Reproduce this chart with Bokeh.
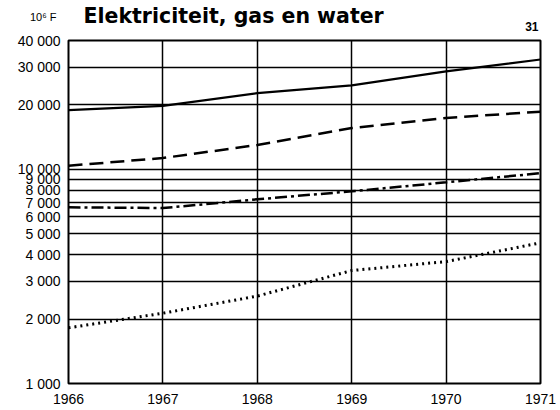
from bokeh.plotting import figure
from bokeh.layouts import column
from bokeh.models import Range1d, FixedTicker
from bokeh.core.properties import value
from bokeh.embed import file_html
from bokeh.resources import INLINE

years = [1966, 1967, 1968, 1969, 1970, 1971]
solid = [18900, 19800, 22700, 24700, 28700, 32600]
dashed = [10400, 11300, 13000, 15600, 17400, 18600]
dashdot = [6650, 6600, 7250, 7900, 8700, 9600]
dotted = [1820, 2130, 2560, 3370, 3710, 4540]

y_ticks = [1000, 2000, 3000, 4000, 5000, 6000, 7000, 8000, 9000, 10000, 20000, 30000, 40000]
y_labels = ["1 000", "2 000", "3 000", "4 000", "5 000", "6 000", "7 000", "8 000",
            "9 000", "10 000", "20 000", "30 000", "40 000"]
x_labels = ["1966", "1967", "1968", "1969", "1970", "1971"]

title_text = "Elektriciteit, gas en water"
unit_text = "10\u2076 F"
page_text = "31"

FONT = "Liberation Sans"
W = 556
LEFT, RIGHT = 68, 16
HEAD_H = 32

# header strip holding the title texts (page-pixel coordinates)
head = figure(width=W, height=HEAD_H, output_backend="svg", toolbar_location=None,
              x_range=Range1d(LEFT, W - RIGHT), y_range=Range1d(HEAD_H, 0),
              x_axis_type=None, min_border=0,
              min_border_left=LEFT, min_border_right=RIGHT)
head.outline_line_color = None
head.xgrid.visible = False
head.ygrid.visible = False
# unit label lives in the header's left margin as its single tick label
head.yaxis.ticker = FixedTicker(ticks=[16])
head.yaxis.major_label_overrides = {16: unit_text}
head.yaxis.axis_line_color = None
head.yaxis.major_tick_line_color = None
head.yaxis.minor_tick_line_color = None
head.yaxis.major_label_text_font = FONT
head.yaxis.major_label_text_font_size = "11px"
head.yaxis.major_label_text_color = "black"
head.yaxis.major_label_standoff = 6

head.text(x=[83], y=[15], text=[title_text], text_font=value("DejaVu Sans"), text_font_size="20.5px",
          text_font_style="bold", text_baseline="alphabetic", text_color="black")
head.text(x=[538], y=[25.5], text=[page_text], text_font=value(FONT), text_font_size="12px",
          text_font_style="bold", text_baseline="alphabetic", text_align="right", text_color="black")

p = figure(width=W, height=374, output_backend="svg", toolbar_location=None,
           y_axis_type="log", x_range=Range1d(1966, 1971), y_range=Range1d(1000, 40000),
           min_border_left=LEFT, min_border_right=RIGHT, min_border_top=8, min_border_bottom=20)

p.outline_line_color = "black"
p.outline_line_width = 2
p.background_fill_color = "white"
p.border_fill_color = "white"

p.xaxis.ticker = FixedTicker(ticks=years)
p.yaxis.ticker = FixedTicker(ticks=y_ticks)
p.xaxis.major_label_overrides = {y: l for y, l in zip(years, x_labels)}
p.yaxis.major_label_overrides = {t: l for t, l in zip(y_ticks, y_labels)}

for ax in (p.xaxis, p.yaxis):
    ax.axis_line_color = None
    ax.major_tick_line_color = None
    ax.minor_tick_line_color = None
    ax.major_label_text_font = FONT
    ax.major_label_text_color = "black"
p.xaxis.major_label_text_font_size = "14px"
p.yaxis.major_label_text_font_size = "14px"
p.xaxis.major_label_standoff = 4
p.yaxis.major_label_standoff = 2

p.xgrid.grid_line_color = "black"
p.xgrid.grid_line_width = 1.5
p.xgrid.grid_line_alpha = 1
p.ygrid.grid_line_color = "black"
p.ygrid.grid_line_width = 1.5
p.ygrid.grid_line_alpha = 1

p.line(years, solid, line_color="black", line_width=2.2)
p.line(years, dashed, line_color="black", line_width=2.5, line_dash="14 7")
p.line(years, dashdot, line_color="black", line_width=2.5, line_dash="12 4 3 4")
p.line(years, dotted, line_color="black", line_width=3, line_dash="2 4")

layout = column(head, p, spacing=0)
open("out.html", "w").write(file_html(layout, INLINE))
